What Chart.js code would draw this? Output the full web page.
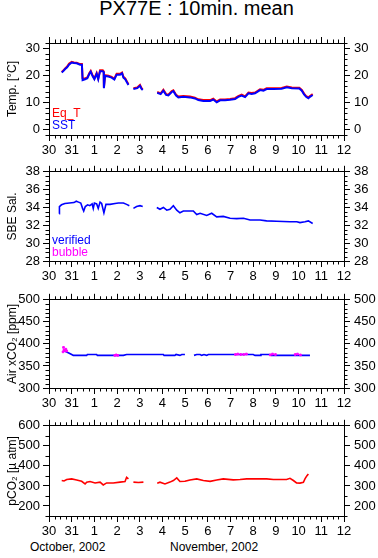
<!DOCTYPE html>
<html><head><meta charset="utf-8">
<script src="https://cdn.jsdelivr.net/npm/chart.js@4/dist/chart.umd.min.js"></script>
<style>
html,body{margin:0;padding:0;background:#fff;}
#wrap{position:relative;width:378px;height:558px;overflow:hidden;background:#fff;font-family:"Liberation Sans",Arial,sans-serif;}
canvas{position:absolute;left:0;}
.txt{position:absolute;white-space:nowrap;color:#000;}
</style></head><body>
<div id="wrap">
<div class="txt" style="left:0;width:393px;text-align:center;top:-4px;font-size:20px;line-height:24px;">PX77E : 10min. mean</div>
<canvas id="c1" width="378" height="138" style="top:22px"></canvas>
<canvas id="c2" width="378" height="128" style="top:160px"></canvas>
<canvas id="c3" width="378" height="126" style="top:288px"></canvas>
<canvas id="c4" width="378" height="126" style="top:414px"></canvas>
<div class="txt" style="left:30px;top:540px;font-size:12px;line-height:15px;">October, 2002</div>
<div class="txt" style="left:170px;top:540px;font-size:12px;line-height:15px;">November, 2002</div>
</div>
<script>
// ---- data (x = days since Oct 30, 2002 00:00) ----
const dayTicks  = [0,1,2,3,4,5,6,7,8,9,10,11,12,13];
const dayLabels = ['30','31','1','2','3','4','5','6','7','8','9','10','11','12'];

const tempDays = [0.56,0.63,0.70,0.80,0.88,1.00,1.10,1.22,1.37,1.45,1.48,1.59,1.69,1.78,1.84,1.92,2.00,2.10,2.17,2.25,2.37,2.41,2.42,2.47,2.62,2.76,2.88,2.98,3.13,3.22,3.28,3.36,3.42,3.50,3.60,3.72,3.89,4.01,4.08,4.13,4.45,4.77,4.92,5.04,5.16,5.26,5.41,5.48,5.60,5.70,5.92,6.21,6.43,6.58,6.80,7.10,7.24,7.39,7.54,7.76,7.98,8.20,8.34,8.49,8.64,8.79,8.93,9.08,9.30,9.45,9.59,9.89,10.25,10.48,10.70,11.03,11.14,11.24,11.33,11.43,11.50,11.62];
const sst = [21.1,21.6,22.3,23.0,24.0,24.8,24.6,24.5,24.0,24.0,18.3,18.6,19.0,20.6,21.4,19.8,18.6,20.6,18.6,21.6,21.6,21.2,15.3,19.8,19.6,19.2,18.5,20.3,20.3,20.8,19.2,18.6,17.7,16.5,null,15.0,15.3,16.2,15.0,14.6,null,13.6,13.1,14.4,12.8,12.6,13.9,14.2,12.6,11.9,12.1,11.9,11.5,10.9,10.6,10.6,11.1,10.1,10.8,10.8,11.0,11.3,12.1,12.6,12.0,13.4,13.2,13.4,14.6,14.4,15.0,15.0,15.1,15.6,15.3,15.2,14.4,13.0,12.1,11.6,12.1,12.8];
const eqT = [21.3,21.8,22.5,23.3,24.3,25.0,24.8,24.7,24.2,24.2,19.0,18.9,19.3,20.9,21.7,20.1,18.9,20.9,18.9,21.9,21.9,21.5,15.6,20.1,19.9,19.5,18.8,20.6,20.6,21.1,19.5,18.9,18.0,16.8,null,15.3,15.6,16.5,15.3,14.9,null,13.9,13.4,14.7,13.1,12.9,14.2,14.5,12.9,12.2,12.4,12.2,11.8,11.2,10.9,10.9,11.4,10.4,11.1,11.1,11.3,11.6,12.4,12.9,12.3,13.7,13.5,13.7,14.9,14.7,15.3,15.3,15.4,15.9,15.6,15.5,14.7,13.3,12.4,11.9,12.4,13.1];

const salDays = [0.45,0.46,0.55,0.70,0.90,1.10,1.20,1.30,1.40,1.48,1.53,1.60,1.70,1.80,1.90,1.95,2.00,2.10,2.17,2.25,2.32,2.42,2.51,2.69,2.91,3.06,3.28,3.42,3.54,3.62,3.72,3.86,4.01,4.13,4.45,4.75,4.89,5.04,5.19,5.33,5.48,5.63,5.77,5.92,6.36,6.51,6.66,6.95,7.17,7.39,7.68,7.98,8.27,8.57,8.86,9.30,9.59,10.03,10.62,10.92,11.06,11.28,11.43,11.62];
const salVerified = [33.3,34.1,34.3,34.45,34.5,34.55,34.7,34.6,34.5,33.9,33.6,34.1,34.3,34.2,34.4,33.9,34.5,34.4,33.9,34.6,34.45,33.4,34.35,34.35,34.45,34.5,34.5,34.35,34.2,null,33.9,34.1,34.2,34.1,null,34.0,33.8,34.0,33.7,33.8,34.2,33.7,33.4,33.6,33.6,33.2,33.35,33.1,33.35,32.95,33.0,32.8,32.75,32.8,32.6,32.6,32.5,32.45,32.4,32.4,32.3,32.4,32.5,32.2];

const airDays = [0.63,0.70,0.85,1.00,1.07,1.66,1.69,2.10,2.13,2.84,3.28,3.42,5.04,5.07,5.55,5.60,5.77,5.85,5.99,6.05,6.39,6.51,6.66,6.73,6.83,6.95,7.02,9.00,9.08,9.30,9.34,9.74,9.80,11.50];
const airCO2 = [385,383,380,376,374,374,376,376,374,374,374,376,376,374,374,376,374,376,376,null,374,376,376,374,376,374,376,376,374,374,376,376,374,374];
const bubbleDays = [0.62,0.64,0.66,0.70,0.74,0.78,2.90,2.96,3.03,8.22,8.32,8.45,8.58,8.70,9.75,9.85,9.98,10.85,10.95,11.08];
const bubbleCO2 = [382,392,386,385,388,384,374,375,374,376,377,376,376,377,375,377,376,376,377,375];

const pco2Days = [0.56,0.66,0.78,1.00,1.22,1.44,1.59,1.66,1.81,2.03,2.25,2.39,2.54,2.83,3.13,3.35,3.42,3.50,3.60,3.72,3.94,4.16,4.45,4.77,4.89,5.11,5.33,5.48,5.63,5.77,5.99,6.21,6.51,6.80,7.10,7.39,7.68,8.12,8.42,8.71,9.59,9.89,10.47,10.62,10.77,10.91,11.06,11.21,11.28,11.36,11.43];
const pco2 = [327,325,332,335,330,323,310,319,322,315,319,305,315,315,319,322,343,335,null,319,317,319,null,314,319,310,319,327,340,322,323,330,335,327,323,330,335,330,332,335,335,332,332,338,327,315,314,318,335,350,360];

const tempTicks = [0,10,20,30];
const salTicks = [28,30,32,34,36,38];
const airTicks = [300,350,400,450,500];
const pco2Ticks = [200,300,400,500,600];

// ---- helpers ----
const pts = (xs, ys) => xs.map((x, i) => ({x: x, y: ys[i]}));
const TICKFONT = {family: '"Liberation Sans", Arial, sans-serif', size: 13};
const TITLEFONT = {family: '"Liberation Sans", Arial, sans-serif', size: 12};

const extras = {
  id: 'extras',
  afterDraw(chart, args, o) {
    const ctx = chart.ctx;
    const {left, right, top, bottom} = chart.chartArea;
    const xs = chart.scales.x, ys = chart.scales.y;
    const L = 3.5;
    ctx.save();
    ctx.strokeStyle = '#000';
    ctx.lineWidth = 1;
    ctx.beginPath();
    const nx = Math.round((xs.max - xs.min) / o.xMinor);
    for (let i = 0; i <= nx; i++) {
      const v = xs.min + i * o.xMinor;
      if (Math.abs(v - Math.round(v)) < 1e-6) continue;
      const px = Math.round(xs.getPixelForValue(v)) + 0.5;
      ctx.moveTo(px, bottom); ctx.lineTo(px, bottom + L);
      ctx.moveTo(px, top); ctx.lineTo(px, top - L);
    }
    const ny = Math.round((ys.max - ys.min) / o.yMinor);
    for (let i = 0; i <= ny; i++) {
      const v = ys.min + i * o.yMinor;
      if (o.yMajor.some(m => Math.abs(m - v) < 1e-6)) continue;
      const py = Math.round(ys.getPixelForValue(v)) + 0.5;
      ctx.moveTo(left, py); ctx.lineTo(left - L, py);
      ctx.moveTo(right, py); ctx.lineTo(right + L, py);
    }
    ctx.stroke();
    if (o.labels) {
      ctx.font = '12px "Liberation Sans", Arial, sans-serif';
      ctx.textAlign = 'left';
      ctx.textBaseline = 'alphabetic';
      o.labels.forEach(l => {
        ctx.fillStyle = l.color;
        ctx.fillText(l.text, left + 3, bottom - l.dy);
      });
    }
    ctx.restore();
  }
};

function setTicks(list) {
  return s => { s.ticks = list.map(v => ({value: v})); };
}

function options(p) {
  const grid = {drawOnChartArea: false, drawTicks: true, tickLength: 6, tickColor: '#000', color: '#000', tickWidth: 1};
  const border = {display: true, color: '#000', width: 1};
  return {
    responsive: false, animation: false, events: [],
    layout: {padding: 0},
    plugins: {legend: {display: false}, tooltip: {enabled: false},
      extras: {xMinor: 0.25, yMinor: p.yMinor, yMajor: p.yTicks, labels: p.labels}},
    elements: {point: {radius: 0}, line: {borderWidth: 2, tension: 0}},
    scales: {
      x: {type: 'linear', position: 'bottom', min: 0, max: 13,
        afterBuildTicks: setTicks(dayTicks), afterFit: s => { s.height = p.bottomH; },
        ticks: {autoSkip: false, maxRotation: 0, minRotation: 0, padding: 2, color: '#000', font: TICKFONT,
          callback: v => dayLabels[Math.round(v)]},
        grid: grid, border: border},
      x2: {type: 'linear', position: 'top', min: 0, max: 13,
        afterBuildTicks: setTicks(dayTicks), afterFit: s => { s.height = p.topH; },
        ticks: {display: false, autoSkip: false}, grid: grid, border: border},
      y: {type: 'linear', position: 'left', min: p.min, max: p.max,
        afterBuildTicks: setTicks(p.yTicks), afterFit: s => { s.width = 49; },
        ticks: {autoSkip: false, padding: 3, color: '#000', font: TICKFONT, callback: v => String(v)},
        title: {display: true, text: p.title, color: '#000', font: TITLEFONT, padding: {top: 5, bottom: 0}},
        grid: grid, border: border},
      y2: {type: 'linear', position: 'right', min: p.min, max: p.max,
        afterBuildTicks: setTicks(p.yTicks), afterFit: s => { s.width = 34; },
        ticks: {autoSkip: false, padding: 4, color: '#000', font: TICKFONT, callback: v => String(v)},
        grid: grid, border: border}
    }
  };
}

Chart.register(extras);

new Chart(document.getElementById('c1'), {
  type: 'line',
  data: {datasets: [
    {data: pts(tempDays, sst), borderColor: '#0000ff', spanGaps: false},
    {data: pts(tempDays, eqT), borderColor: '#ff0000', spanGaps: false}
  ]},
  options: options({min: -2, max: 32, yTicks: tempTicks, yMinor: 2, title: 'Temp. [°C]', topH: 21, bottomH: 25,
    labels: [{text: 'Eq_T', color: '#ff0000', dy: 18}, {text: 'SST', color: '#0000ff', dy: 6}]})
});

new Chart(document.getElementById('c2'), {
  type: 'line',
  data: {datasets: [
    {data: pts(salDays, salVerified), borderColor: '#0000ff', spanGaps: false, borderWidth: 1.6}
  ]},
  options: options({min: 28, max: 38, yTicks: salTicks, yMinor: 0.5, title: 'SBE Sal.', topH: 9, bottomH: 27,
    labels: [{text: 'verified', color: '#0000ff', dy: 17}, {text: 'bubble', color: '#ff00ff', dy: 5}]})
});

new Chart(document.getElementById('c3'), {
  type: 'line',
  data: {datasets: [
    {data: pts(bubbleDays, bubbleCO2), borderColor: '#ff00ff', backgroundColor: '#ff00ff', showLine: false,
      pointRadius: 1.2, pointStyle: 'rect', pointBorderWidth: 1},
    {data: pts(airDays, airCO2), borderColor: '#0000ff', spanGaps: false, borderWidth: 1.6}
  ]},
  options: options({min: 300, max: 500, yTicks: airTicks, yMinor: 10, title: 'Air xCO₂ [ppm]', topH: 6, bottomH: 26})
});

new Chart(document.getElementById('c4'), {
  type: 'line',
  data: {datasets: [
    {data: pts(pco2Days, pco2), borderColor: '#ff0000', spanGaps: false, borderWidth: 1.6}
  ]},
  options: options({min: 150, max: 600, yTicks: pco2Ticks, yMinor: 50, title: 'pCO₂ [µ atm]', topH: 8, bottomH: 24})
});
</script>
</body></html>
